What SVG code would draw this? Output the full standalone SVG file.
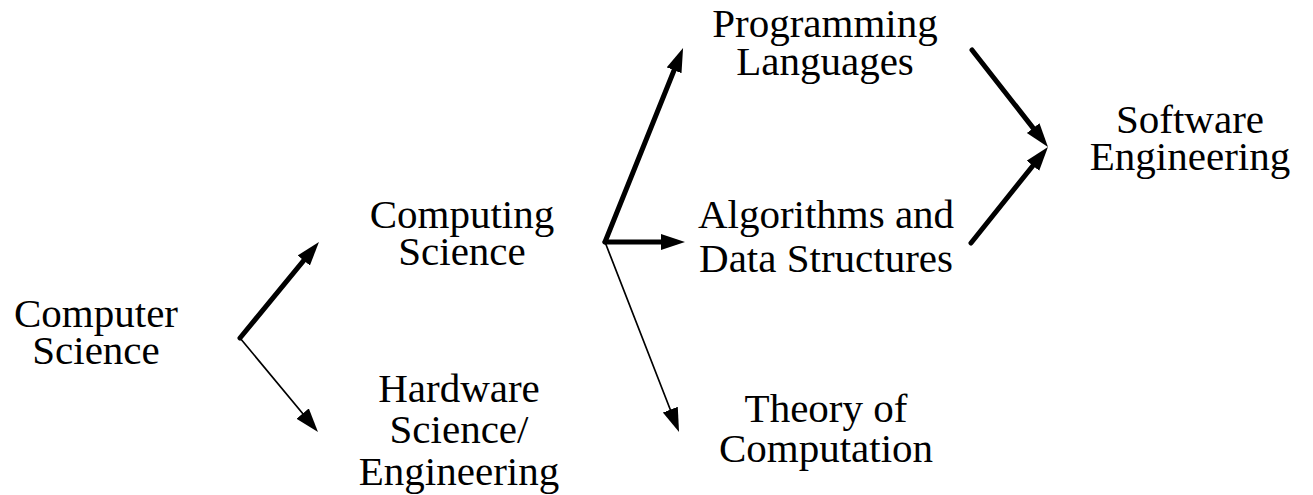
<svg xmlns="http://www.w3.org/2000/svg" width="1313" height="495" viewBox="0 0 1313 495">
  <defs>
    <style>
      .label { font-family: "Liberation Serif", "Times New Roman", serif; font-size: 41px; fill: #000; text-anchor: middle; }
      .thick { stroke: #000; stroke-width: 5; stroke-linecap: round; fill: none; marker-end: url(#head); }
      .thin { stroke: #000; stroke-width: 1.7; stroke-linecap: round; fill: none; marker-end: url(#head); }
    </style>
    <marker id="head" markerUnits="userSpaceOnUse" markerWidth="26" markerHeight="18" refX="14" refY="8" orient="auto">
      <path d="M0,0 L24,8 L0,16 z" fill="#000"/>
    </marker>
  </defs>
  <rect width="1313" height="495" fill="#fff"/>

  <!-- connectors: each line stops 10px short of its arrow tip; the marker supplies the rest -->
  <g id="connectors">
    <line class="thick" x1="240" y1="338" x2="312.6" y2="249.7"/>
    <line class="thin" x1="240" y1="338" x2="311.6" y2="424.3"/>
    <line class="thick" x1="605" y1="242" x2="679.3" y2="57.3"/>
    <line class="thick" x1="605" y1="242" x2="675" y2="242"/>
    <line class="thin" x1="605" y1="242" x2="675.4" y2="422.7"/>
    <line class="thick" x1="972" y1="50" x2="1041.8" y2="139.1"/>
    <line class="thick" x1="971" y1="243" x2="1041.7" y2="154.8"/>
  </g>

  <g id="computer-science">
    <text class="label"><tspan x="96" y="327">Computer</tspan><tspan x="96" y="364">Science</tspan></text>
  </g>
  <g id="computing-science">
    <text class="label"><tspan x="462" y="228">Computing</tspan><tspan x="462" y="265">Science</tspan></text>
  </g>
  <g id="hardware-science">
    <text class="label"><tspan x="459" y="402">Hardware</tspan><tspan x="459" y="443">Science/</tspan><tspan x="459" y="485">Engineering</tspan></text>
  </g>
  <g id="programming-languages">
    <text class="label"><tspan x="825" y="37">Programming</tspan><tspan x="825" y="75">Languages</tspan></text>
  </g>
  <g id="algorithms">
    <text class="label"><tspan x="826" y="228">Algorithms and</tspan><tspan x="826" y="272">Data Structures</tspan></text>
  </g>
  <g id="theory">
    <text class="label"><tspan x="826" y="422">Theory of</tspan><tspan x="826" y="462">Computation</tspan></text>
  </g>
  <g id="software-engineering">
    <text class="label"><tspan x="1190" y="133">Software</tspan><tspan x="1190" y="170">Engineering</tspan></text>
  </g>
</svg>
